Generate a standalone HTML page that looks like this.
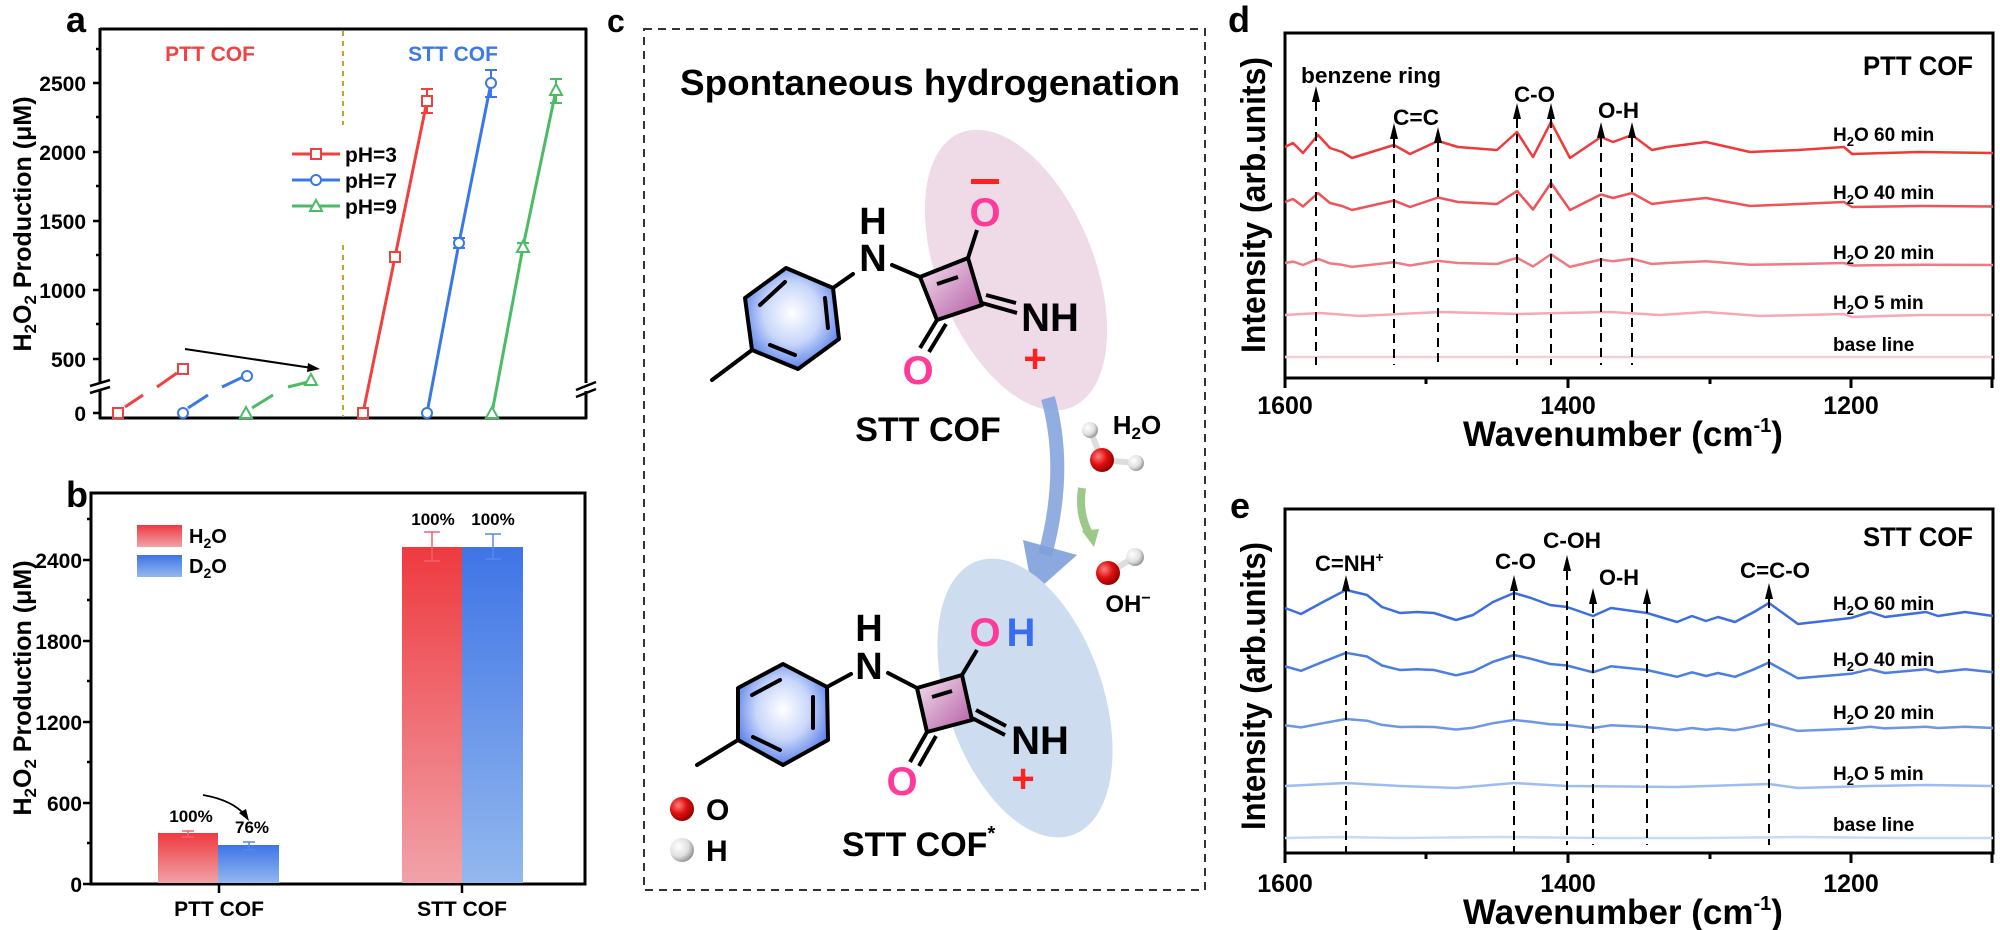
<!DOCTYPE html>
<html><head><meta charset="utf-8"><style>
html,body{margin:0;padding:0;background:#fff;}
svg{display:block;}
text{font-family:"Liberation Sans",Arial,sans-serif;font-weight:bold;}
.n{font-family:"Liberation Sans Narrow","Liberation Sans",Arial,sans-serif;}
</style></head><body>
<svg width="2000" height="930" viewBox="0 0 2000 930" xmlns="http://www.w3.org/2000/svg">
<defs>
<linearGradient id="gr" x1="0" y1="0" x2="0" y2="1"><stop offset="0" stop-color="#ee3a40"/><stop offset="1" stop-color="#f0a2a8"/></linearGradient>
<linearGradient id="gb" x1="0" y1="0" x2="0" y2="1"><stop offset="0" stop-color="#3f74e6"/><stop offset="1" stop-color="#93b8ee"/></linearGradient>
<radialGradient id="benz" cx="0.5" cy="0.45" r="0.6"><stop offset="0" stop-color="#ffffff"/><stop offset="0.5" stop-color="#c8d6fa"/><stop offset="1" stop-color="#4a74e8"/></radialGradient>
<linearGradient id="sq" x1="0" y1="0" x2="1" y2="1"><stop offset="0" stop-color="#f4e4f0"/><stop offset="1" stop-color="#b45aa4"/></linearGradient>
<radialGradient id="ball" cx="0.35" cy="0.35" r="0.7"><stop offset="0" stop-color="#ff8080"/><stop offset="0.5" stop-color="#e01010"/><stop offset="1" stop-color="#900000"/></radialGradient>
<radialGradient id="wball" cx="0.35" cy="0.35" r="0.7"><stop offset="0" stop-color="#ffffff"/><stop offset="0.6" stop-color="#e0e0e0"/><stop offset="1" stop-color="#909090"/></radialGradient>
</defs>

<!-- ===== Panel a ===== -->
<text x="66" y="32" font-size="36">a</text>
<line x1="100" y1="29" x2="587" y2="29" stroke="#000" stroke-width="3"/>
<line x1="100" y1="28" x2="100" y2="419" stroke="#000" stroke-width="3"/>
<line x1="586" y1="28" x2="586" y2="419" stroke="#000" stroke-width="3"/>
<line x1="99" y1="418" x2="587" y2="418" stroke="#000" stroke-width="3"/>
<rect x="90" y="383" width="20" height="8" fill="#fff"/>
<line x1="90" y1="386" x2="110" y2="380" stroke="#000" stroke-width="2.5"/>
<line x1="90" y1="393" x2="110" y2="387" stroke="#000" stroke-width="2.5"/>
<rect x="576" y="383" width="20" height="8" fill="#fff"/>
<line x1="576" y1="390" x2="596" y2="382" stroke="#000" stroke-width="2.5"/>
<line x1="576" y1="397" x2="596" y2="389" stroke="#000" stroke-width="2.5"/>
<g stroke="#000" stroke-width="2.5">
<line x1="93" y1="83" x2="100" y2="83"/><line x1="93" y1="152" x2="100" y2="152"/><line x1="93" y1="221" x2="100" y2="221"/><line x1="93" y1="290" x2="100" y2="290"/><line x1="93" y1="359" x2="100" y2="359"/><line x1="93" y1="413" x2="100" y2="413"/>
<line x1="96" y1="49" x2="100" y2="49"/><line x1="96" y1="117" x2="100" y2="117"/><line x1="96" y1="186" x2="100" y2="186"/><line x1="96" y1="255" x2="100" y2="255"/><line x1="96" y1="324" x2="100" y2="324"/>
</g>
<g font-size="21" text-anchor="end">
<text x="86" y="91">2500</text><text x="86" y="160">2000</text><text x="86" y="229">1500</text><text x="86" y="298">1000</text><text x="86" y="367">500</text><text x="86" y="421">0</text>
</g>
<text transform="translate(31,224) rotate(-90)" font-size="25" text-anchor="middle">H<tspan font-size="17" dy="5">2</tspan><tspan dy="-5">O</tspan><tspan font-size="17" dy="5">2</tspan><tspan dy="-5"> Production (μM)</tspan></text>
<line x1="343" y1="31" x2="343" y2="125" stroke="#c8a030" stroke-width="2" stroke-dasharray="5,5"/>
<line x1="343" y1="245" x2="343" y2="417" stroke="#c8a030" stroke-width="2" stroke-dasharray="5,5"/>
<text x="210" y="61" font-size="21" fill="#f04444" text-anchor="middle">PTT COF</text>
<text x="453" y="61" font-size="21" fill="#3b7be8" text-anchor="middle">STT COF</text>
<!-- PTT data -->
<g stroke-width="3" fill="none">
<line x1="125" y1="407" x2="143" y2="395" stroke="#f04040"/><line x1="157" y1="387" x2="177" y2="373" stroke="#f04040"/>
<line x1="188" y1="408" x2="208" y2="395" stroke="#3a78e8"/><line x1="222" y1="387" x2="243" y2="377" stroke="#3a78e8"/>
<line x1="252" y1="408" x2="273" y2="395" stroke="#4cbb66"/><line x1="288" y1="387" x2="308" y2="382" stroke="#4cbb66"/>
</g>
<g fill="#fff" stroke-width="2">
<rect x="113" y="408" width="10" height="10" stroke="#f04040"/><rect x="178" y="364" width="10" height="10" stroke="#f04040"/>
<circle cx="183" cy="413" r="5" stroke="#3a78e8"/><circle cx="247" cy="376" r="5" stroke="#3a78e8"/>
<polygon points="246,407 252,418 240,418" stroke="#4cbb66"/><polygon points="311,374 317,385 305,385" stroke="#4cbb66"/>
</g>
<line x1="185" y1="349" x2="312" y2="368" stroke="#000" stroke-width="2"/>
<polygon points="320,369 308,363 307,372" fill="#000"/>
<!-- STT data -->
<polyline points="363,413 395,257 427,101" fill="none" stroke="#f04040" stroke-width="3"/>
<polyline points="427,413 459,243 491,83" fill="none" stroke="#3a78e8" stroke-width="3"/>
<polyline points="492,413 523,247 556,90" fill="none" stroke="#4cbb66" stroke-width="3"/>
<g stroke-width="2" fill="none">
<path d="M427 89V113M421 89H433M421 113H433M395 253V261M389 253H401M389 261H401" stroke="#f04040"/>
<path d="M491 70V97M485 70H497M485 97H497M459 238V248M453 238H465M453 248H465" stroke="#3a78e8"/>
<path d="M556 79V103M550 79H562M550 103H562M523 243V251M517 243H529M517 251H529" stroke="#4cbb66"/>
</g>
<g fill="#fff" stroke-width="2">
<rect x="358" y="408" width="10" height="10" stroke="#f04040"/><rect x="390" y="252" width="10" height="10" stroke="#f04040"/><rect x="422" y="96" width="10" height="10" stroke="#f04040"/>
<circle cx="427" cy="413" r="5" stroke="#3a78e8"/><circle cx="459" cy="243" r="5" stroke="#3a78e8"/><circle cx="491" cy="83" r="5" stroke="#3a78e8"/>
<polygon points="492,407 498,418 486,418" stroke="#4cbb66"/><polygon points="523,241 529,252 517,252" stroke="#4cbb66"/><polygon points="556,84 562,95 550,95" stroke="#4cbb66"/>
</g>
<!-- legend a -->
<line x1="292" y1="154" x2="340" y2="154" stroke="#f04040" stroke-width="3"/><rect x="311" y="149" width="10" height="10" fill="#fff" stroke="#f04040" stroke-width="2"/>
<line x1="292" y1="180" x2="340" y2="180" stroke="#3a78e8" stroke-width="3"/><circle cx="316" cy="180" r="5" fill="#fff" stroke="#3a78e8" stroke-width="2"/>
<line x1="292" y1="206" x2="340" y2="206" stroke="#4cbb66" stroke-width="3"/><polygon points="316,200 322,211 310,211" fill="#fff" stroke="#4cbb66" stroke-width="2"/>
<g font-size="21"><text x="345" y="162">pH=3</text><text x="345" y="188">pH=7</text><text x="345" y="214">pH=9</text></g>

<!-- ===== Panel b ===== -->
<text x="66" y="507" font-size="36">b</text>
<rect x="91" y="493" width="494" height="391" fill="none" stroke="#000" stroke-width="3"/>
<g stroke="#000" stroke-width="2.5">
<line x1="83" y1="884" x2="91" y2="884"/><line x1="83" y1="803" x2="91" y2="803"/><line x1="83" y1="722" x2="91" y2="722"/><line x1="83" y1="641" x2="91" y2="641"/><line x1="83" y1="560" x2="91" y2="560"/>
<line x1="87" y1="843" x2="91" y2="843"/><line x1="87" y1="762" x2="91" y2="762"/><line x1="87" y1="681" x2="91" y2="681"/><line x1="87" y1="600" x2="91" y2="600"/><line x1="87" y1="519" x2="91" y2="519"/>
<line x1="219" y1="884" x2="219" y2="893"/><line x1="462" y1="884" x2="462" y2="893"/>
</g>
<g font-size="21" text-anchor="end">
<text x="82" y="892">0</text><text x="82" y="811">600</text><text x="82" y="730">1200</text><text x="82" y="649">1800</text><text x="82" y="568">2400</text>
</g>
<text transform="translate(31,688) rotate(-90)" font-size="25" text-anchor="middle">H<tspan font-size="17" dy="5">2</tspan><tspan dy="-5">O</tspan><tspan font-size="17" dy="5">2</tspan><tspan dy="-5"> Production (μM)</tspan></text>
<rect x="158" y="833" width="60" height="50" fill="url(#gr)"/>
<rect x="218" y="845" width="61" height="38" fill="url(#gb)"/>
<rect x="402" y="547" width="60" height="336" fill="url(#gr)"/>
<rect x="462" y="547" width="61" height="336" fill="url(#gb)"/>
<g stroke-width="1.5" fill="none">
<path d="M188 831V837M182 831H194M182 837H194" stroke="#f06070"/>
<path d="M249 842V850M243 842H255M243 850H255" stroke="#5588ee"/>
<path d="M432 532V561M424 532H440M424 561H440" stroke="#f06070"/>
<path d="M493 534V559M485 534H501M485 559H501" stroke="#5588ee"/>
</g>
<g font-size="17" text-anchor="middle">
<text x="191" y="822">100%</text><text x="252" y="833">76%</text><text x="433" y="525">100%</text><text x="493" y="525">100%</text>
</g>
<path d="M203 795 Q232 800 245 815" fill="none" stroke="#000" stroke-width="1.8"/>
<polygon points="249,821 239,813 246,809" fill="#000"/>
<rect x="137" y="525" width="45" height="22" fill="url(#gr)"/>
<rect x="137" y="555" width="45" height="22" fill="url(#gb)"/>
<g font-size="20">
<text x="189" y="543">H<tspan font-size="14" dy="5">2</tspan><tspan dy="-5">O</tspan></text>
<text x="189" y="573">D<tspan font-size="14" dy="5">2</tspan><tspan dy="-5">O</tspan></text>
</g>
<g font-size="21" text-anchor="middle"><text x="219" y="916">PTT COF</text><text x="462" y="916">STT COF</text></g>

<!-- ===== Panel c ===== -->
<text x="607" y="32" font-size="32">c</text>
<rect x="644" y="29" width="561" height="861" fill="none" stroke="#333" stroke-width="2" stroke-dasharray="8,6"/>
<text x="930" y="95" font-size="36" text-anchor="middle" textLength="500" lengthAdjust="spacingAndGlyphs">Spontaneous hydrogenation</text>
<!-- molecule 1 -->
<ellipse cx="1016" cy="270" rx="78" ry="148" fill="#efdbe8" transform="rotate(-22 1016 270)"/>
<polygon points="786,268 833,288 839,339 798,369 752,350 745,298" fill="url(#benz)" stroke="#000" stroke-width="4" stroke-linejoin="round"/>
<g stroke="#000" stroke-width="4" stroke-linecap="round" fill="none">
<line x1="760" y1="305" x2="785" y2="282"/><line x1="825" y1="298" x2="828" y2="328"/><line x1="770" y1="345" x2="795" y2="355"/>
<line x1="752" y1="350" x2="712" y2="380"/><line x1="833" y1="288" x2="853" y2="274"/><line x1="892" y1="265" x2="920" y2="277"/>
</g>
<polygon points="920,277 968,258 982,305 937,320" fill="url(#sq)" stroke="#000" stroke-width="4" stroke-linejoin="round"/>
<g stroke="#000" stroke-width="4" fill="none">
<line x1="937" y1="284" x2="958" y2="277"/><line x1="968" y1="258" x2="977" y2="230"/>
<line x1="982" y1="303" x2="1017" y2="313"/><line x1="986" y1="295" x2="1016" y2="303"/>
<line x1="937" y1="320" x2="920" y2="348"/><line x1="946" y1="324" x2="929" y2="352"/>
</g>
<text x="873" y="234" font-size="38" text-anchor="middle">H</text>
<text x="873" y="271" font-size="38" text-anchor="middle">N</text>
<text x="985" y="226" font-size="40" text-anchor="middle" fill="#ff3a9a">O</text>
<rect x="971" y="179" width="28" height="5" fill="#ff2020"/>
<text x="1050" y="331" font-size="40" text-anchor="middle">NH</text>
<text x="1035" y="372" font-size="40" text-anchor="middle" fill="#ff2020">+</text>
<text x="918" y="384" font-size="40" text-anchor="middle" fill="#ff3a9a">O</text>
<text x="928" y="441" font-size="34" text-anchor="middle">STT COF</text>
<!-- water + arrows -->
<path d="M1048 398 Q1068 470 1045 555" fill="none" stroke="#7fa0dc" stroke-width="14" opacity="0.85"/>
<polygon points="1023,540 1077,555 1033,594" fill="#7fa0dc" opacity="0.9"/>
<path d="M1082 488 Q1078 515 1090 535" fill="none" stroke="#9cc88a" stroke-width="8"/>
<polygon points="1082,531 1099,529 1094,547" fill="#9cc88a"/>
<line x1="1090" y1="430" x2="1102" y2="460" stroke="#ddd" stroke-width="6"/>
<line x1="1102" y1="460" x2="1136" y2="463" stroke="#ddd" stroke-width="6"/>
<circle cx="1102" cy="460" r="12" fill="url(#ball)"/>
<circle cx="1090" cy="430" r="8" fill="url(#wball)"/>
<circle cx="1136" cy="463" r="8" fill="url(#wball)"/>
<text x="1137" y="434" font-size="26" text-anchor="middle">H<tspan font-size="17" dy="5">2</tspan><tspan dy="-5">O</tspan></text>
<line x1="1108" y1="573" x2="1135" y2="557" stroke="#ddd" stroke-width="6"/>
<circle cx="1108" cy="573" r="12" fill="url(#ball)"/>
<circle cx="1135" cy="557" r="9" fill="url(#wball)"/>
<text x="1128" y="612" font-size="24" text-anchor="middle">OH<tspan font-size="16" dy="-9">−</tspan></text>
<!-- molecule 2 -->
<ellipse cx="1025" cy="698" rx="78" ry="145" fill="#cddcef" transform="rotate(-19 1025 698)"/>
<polygon points="783,664 827,687 828,740 783,765 738,740 738,688" fill="url(#benz)" stroke="#000" stroke-width="4" stroke-linejoin="round"/>
<g stroke="#000" stroke-width="4" stroke-linecap="round" fill="none">
<line x1="752" y1="695" x2="780" y2="680"/><line x1="813" y1="697" x2="813" y2="728"/><line x1="753" y1="737" x2="780" y2="750"/>
<line x1="738" y1="740" x2="697" y2="765"/><line x1="827" y1="687" x2="851" y2="674"/><line x1="888" y1="673" x2="917" y2="688"/>
</g>
<polygon points="917,688 962,675 972,720 927,732" fill="url(#sq)" stroke="#000" stroke-width="4" stroke-linejoin="round"/>
<g stroke="#000" stroke-width="4" fill="none">
<line x1="932" y1="697" x2="952" y2="691"/><line x1="962" y1="675" x2="977" y2="650"/>
<line x1="972" y1="718" x2="1005" y2="735"/><line x1="976" y1="710" x2="1006" y2="726"/>
<line x1="927" y1="732" x2="910" y2="762"/><line x1="936" y1="736" x2="919" y2="766"/>
</g>
<text x="869" y="641" font-size="38" text-anchor="middle">H</text>
<text x="869" y="679" font-size="38" text-anchor="middle">N</text>
<text x="985" y="646" font-size="40" text-anchor="middle" fill="#ff3a9a">O</text>
<text x="1021" y="646" font-size="40" text-anchor="middle" fill="#3a6cf0">H</text>
<text x="1040" y="754" font-size="40" text-anchor="middle">NH</text>
<text x="1023" y="792" font-size="40" text-anchor="middle" fill="#ff2020">+</text>
<text x="902" y="795" font-size="40" text-anchor="middle" fill="#ff3a9a">O</text>
<text x="842" y="856" font-size="34">STT COF<tspan font-size="20" dy="-16">*</tspan></text>
<circle cx="682" cy="809" r="12" fill="url(#ball)"/>
<circle cx="682" cy="850" r="12" fill="url(#wball)"/>
<text x="706" y="820" font-size="30">O</text>
<text x="706" y="861" font-size="30">H</text>

<!-- ===== Panel d ===== -->
<text x="1228" y="32" font-size="36">d</text>
<rect x="1285" y="33" width="708" height="345" fill="none" stroke="#000" stroke-width="3"/>
<g stroke="#000" stroke-width="3">
<line x1="1285" y1="378" x2="1285" y2="388"/><line x1="1568" y1="378" x2="1568" y2="388"/><line x1="1851" y1="378" x2="1851" y2="388"/>
<line x1="1426" y1="378" x2="1426" y2="384"/><line x1="1710" y1="378" x2="1710" y2="384"/><line x1="1992" y1="378" x2="1992" y2="388"/>
</g>
<g class="n" font-size="25" text-anchor="middle"><text class="n" x="1285" y="414">1600</text><text class="n" x="1568" y="414">1400</text><text class="n" x="1851" y="414">1200</text></g>
<text class="n" x="1623" y="446" font-size="35" text-anchor="middle">Wavenumber (cm<tspan font-size="20" dy="-14">-1</tspan><tspan dy="14">)</tspan></text>
<text transform="translate(1265,205) rotate(-90)" font-size="34" text-anchor="middle" textLength="296" lengthAdjust="spacingAndGlyphs">Intensity (arb.units)</text>
<g fill="none" stroke-linejoin="round" stroke-width="2.5">
<polyline stroke="#f8cdd5" points="1285,357 1993,357"/>
<polyline stroke="#f3aab3" points="1285,315 1320,313 1360,316 1440,312 1520,314 1560,313 1610,312 1660,315 1706,312 1760,316 1844,314 1852,317 1920,315 1993,315"/>
<polyline stroke="#f07a82" points="1285,263 1293,261.6 1303,265 1318,258.8 1330,263.4 1342,264.8 1352,266.9 1394,262.3 1410,265.5 1438,260.9 1458,263 1497,264 1517,257.8 1533,266.5 1551,254.3 1570,266.9 1601,259.5 1613,261.3 1632,258.8 1652,264 1667,263 1706,261.3 1750,264.8 1798,264 1844,263 1852,265.5 1919,264.8 1993,265"/>
<polyline stroke="#ef5258" points="1285,202 1293,199 1303,206.5 1318,193 1330,203 1342,206 1352,210 1394,200.5 1410,207 1438,197.5 1458,202 1497,204 1517,191 1533,209.5 1551,183 1570,210 1601,194.5 1613,198 1632,193 1652,204 1667,202 1706,198 1750,206 1798,204 1844,202 1852,207 1919,206 1993,206.5"/>
<polyline stroke="#f03a3a" points="1285,147 1293,143 1303,153 1318,135 1330,148 1342,152 1352,158 1394,145 1410,154 1438,141 1458,147 1497,150 1517,132 1533,157 1551,122 1570,158 1601,137 1613,142 1632,135 1652,150 1667,147 1706,142 1750,152 1798,150 1844,147 1852,154 1919,152 1993,153"/>
</g>
<g stroke="#000" stroke-width="2" stroke-dasharray="9,6">
<line x1="1316" y1="102" x2="1316" y2="365"/><line x1="1394" y1="139" x2="1394" y2="365"/><line x1="1438" y1="143" x2="1438" y2="365"/>
<line x1="1517" y1="119" x2="1517" y2="365"/><line x1="1551" y1="119" x2="1551" y2="365"/><line x1="1601" y1="138" x2="1601" y2="365"/><line x1="1632" y1="138" x2="1632" y2="365"/>
</g>
<g fill="#000">
<polygon points="1316,86 1320,102 1312,102"/><polygon points="1394,123 1398,139 1390,139"/><polygon points="1438,127 1442,143 1434,143"/>
<polygon points="1517,103 1521,119 1513,119"/><polygon points="1551,103 1555,119 1547,119"/><polygon points="1601,122 1605,138 1597,138"/><polygon points="1632,122 1636,138 1628,138"/>
</g>
<g class="n" font-size="22">
<text class="n" x="1301" y="83" textLength="140" lengthAdjust="spacingAndGlyphs">benzene ring</text>
<text class="n" x="1393" y="125" textLength="46" lengthAdjust="spacingAndGlyphs">C=C</text>
<text class="n" x="1514" y="102" textLength="41" lengthAdjust="spacingAndGlyphs">C-O</text>
<text class="n" x="1598" y="118" textLength="41" lengthAdjust="spacingAndGlyphs">O-H</text>
</g>
<text class="n" x="1863" y="75" font-size="27" textLength="110" lengthAdjust="spacingAndGlyphs">PTT COF</text>
<g class="n" font-size="19">
<text class="n" x="1833" y="141">H<tspan font-size="13" dy="5">2</tspan><tspan dy="-5">O 60 min</tspan></text>
<text class="n" x="1833" y="199">H<tspan font-size="13" dy="5">2</tspan><tspan dy="-5">O 40 min</tspan></text>
<text class="n" x="1833" y="259">H<tspan font-size="13" dy="5">2</tspan><tspan dy="-5">O 20 min</tspan></text>
<text class="n" x="1833" y="309">H<tspan font-size="13" dy="5">2</tspan><tspan dy="-5">O 5 min</tspan></text>
<text class="n" x="1833" y="351">base line</text>
</g>

<!-- ===== Panel e ===== -->
<text x="1230" y="518" font-size="36">e</text>
<rect x="1285" y="509" width="708" height="344" fill="none" stroke="#000" stroke-width="3"/>
<g stroke="#000" stroke-width="3">
<line x1="1285" y1="853" x2="1285" y2="863"/><line x1="1568" y1="853" x2="1568" y2="863"/><line x1="1851" y1="853" x2="1851" y2="863"/>
<line x1="1426" y1="853" x2="1426" y2="859"/><line x1="1710" y1="853" x2="1710" y2="859"/><line x1="1992" y1="853" x2="1992" y2="863"/>
</g>
<g class="n" font-size="25" text-anchor="middle"><text class="n" x="1285" y="892">1600</text><text class="n" x="1568" y="892">1400</text><text class="n" x="1851" y="892">1200</text></g>
<text class="n" x="1623" y="924" font-size="35" text-anchor="middle">Wavenumber (cm<tspan font-size="20" dy="-14">-1</tspan><tspan dy="14">)</tspan></text>
<text transform="translate(1265,686) rotate(-90)" font-size="34" text-anchor="middle" textLength="288" lengthAdjust="spacingAndGlyphs">Intensity (arb.units)</text>
<g fill="none" stroke-linejoin="round" stroke-width="2.5">
<polyline stroke="#c6daf6" points="1285,838 1340,837 1400,838 1500,837 1600,838 1700,838 1800,837 1900,838 1993,838"/>
<polyline stroke="#9dbdf0" points="1285,786 1346,783 1400,786 1456,788 1514,783 1567,786 1677,787 1769,784 1798,788 1870,786 1926,785 1993,786"/>
<polyline stroke="#6b97e6" points="1285,725.3 1301,727.4 1323,723.2 1346,719 1367,720.7 1382,724.9 1400,727 1417,726.7 1434,727 1456,729.5 1473,727.7 1493,723.2 1514,720 1531,721.8 1550,724.2 1567,724.9 1593,728 1611,725.3 1647,727 1677,730.2 1692,728 1706,729.8 1718,728.4 1735,730.2 1754,726.7 1769,723.5 1798,730.9 1851,728.8 1870,726.7 1885,728.4 1926,726.7 1938,728 1965,726.7 1993,728"/>
<polyline stroke="#4a7ee2" points="1285,666.3 1301,670.8 1323,661.8 1346,652.8 1367,656.5 1382,665.5 1400,670 1417,669.3 1434,670 1456,675.3 1473,671.5 1493,661.8 1514,655 1531,658.8 1550,664 1567,665.5 1593,672.3 1611,666.3 1647,670 1677,676.8 1692,672.3 1706,676 1718,673 1735,676.8 1754,669.3 1769,662.5 1798,678.3 1851,673.8 1870,669.3 1885,673 1926,669.3 1938,672.3 1965,669.3 1993,672.3"/>
<polyline stroke="#3c6ee0" points="1285,608 1301,614 1323,602 1346,590 1367,595 1382,607 1400,613 1417,612 1434,613 1456,620 1473,615 1493,602 1514,593 1531,598 1550,605 1567,607 1593,616 1611,608 1647,613 1677,622 1692,616 1706,621 1718,617 1735,622 1754,612 1769,603 1798,624 1851,618 1870,612 1885,617 1926,612 1938,616 1965,612 1993,616"/>
</g>
<g stroke="#000" stroke-width="2" stroke-dasharray="9,6">
<line x1="1346" y1="591" x2="1346" y2="852"/><line x1="1514" y1="591" x2="1514" y2="852"/><line x1="1567" y1="571" x2="1567" y2="845"/>
<line x1="1593" y1="604" x2="1593" y2="845"/><line x1="1647" y1="604" x2="1647" y2="845"/><line x1="1769" y1="599" x2="1769" y2="845"/>
</g>
<g fill="#000">
<polygon points="1346,575 1350,591 1342,591"/><polygon points="1514,575 1518,591 1510,591"/><polygon points="1567,555 1571,571 1563,571"/>
<polygon points="1593,588 1597,604 1589,604"/><polygon points="1647,588 1651,604 1643,604"/><polygon points="1769,583 1773,599 1765,599"/>
</g>
<g class="n" font-size="22">
<text class="n" x="1315" y="571">C=NH<tspan font-size="14" dy="-9">+</tspan></text>
<text class="n" x="1495" y="569" textLength="41" lengthAdjust="spacingAndGlyphs">C-O</text>
<text class="n" x="1543" y="548" textLength="58" lengthAdjust="spacingAndGlyphs">C-OH</text>
<text class="n" x="1599" y="585" textLength="40" lengthAdjust="spacingAndGlyphs">O-H</text>
<text class="n" x="1740" y="578" textLength="70" lengthAdjust="spacingAndGlyphs">C=C-O</text>
</g>
<text class="n" x="1863" y="546" font-size="27" textLength="110" lengthAdjust="spacingAndGlyphs">STT COF</text>
<g class="n" font-size="19">
<text class="n" x="1833" y="610">H<tspan font-size="13" dy="5">2</tspan><tspan dy="-5">O 60 min</tspan></text>
<text class="n" x="1833" y="666">H<tspan font-size="13" dy="5">2</tspan><tspan dy="-5">O 40 min</tspan></text>
<text class="n" x="1833" y="719">H<tspan font-size="13" dy="5">2</tspan><tspan dy="-5">O 20 min</tspan></text>
<text class="n" x="1833" y="780">H<tspan font-size="13" dy="5">2</tspan><tspan dy="-5">O 5 min</tspan></text>
<text class="n" x="1833" y="831">base line</text>
</g>
</svg>
</body></html>
